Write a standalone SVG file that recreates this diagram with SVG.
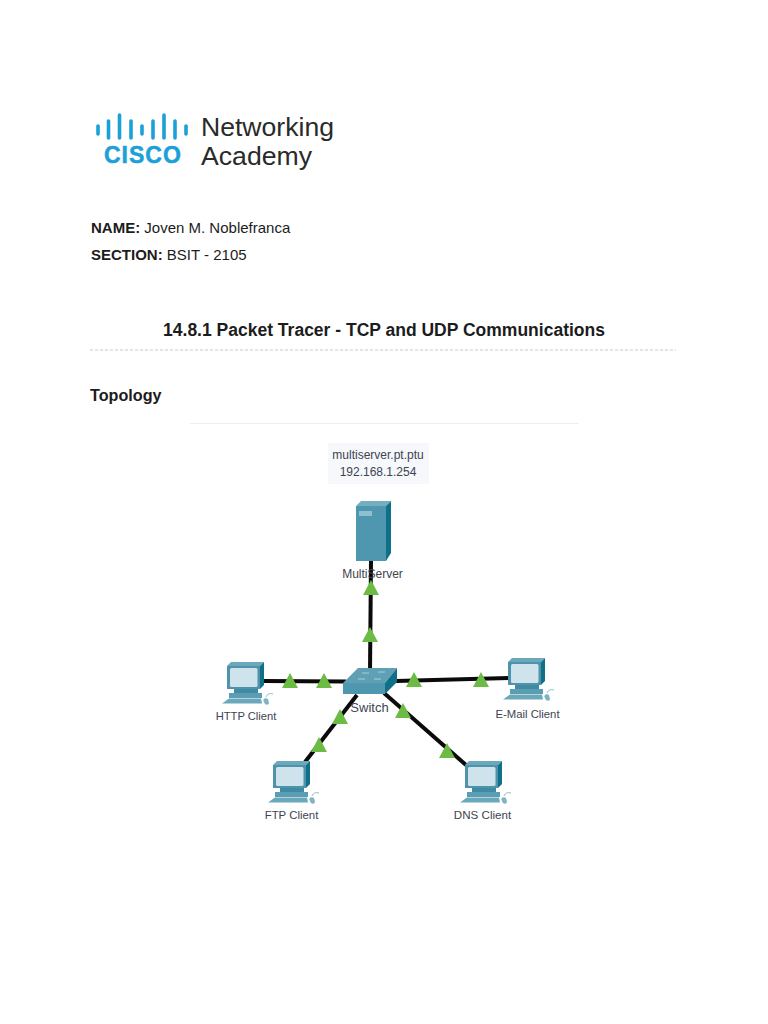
<svg xmlns="http://www.w3.org/2000/svg" width="768" height="1024" viewBox="0 0 768 1024">
<style>
text{font-family:"Liberation Sans",Arial,sans-serif;fill:#1c1c1c}
.doc{font-size:15px}
.b{font-weight:700}
.lbl{font-size:12px;fill:#3d4450;text-anchor:middle}
.wire{stroke:#0a0a0a;stroke-width:4;fill:none}
.arr{fill:#6cbb45}
.bar{stroke:#1ba0d7;stroke-width:3.600;stroke-linecap:round}
</style>
<defs>
<polygon id="tri" class="arr" points="0,-8 8,7 -8,7"/>
<g id="pc">
<polygon points="0,4 4,0 37,0 33,4" fill="#6ba8bb"/>
<polygon points="33,4 37,0 37,23 33,27" fill="#0f7088"/>
<rect x="0" y="4" width="33" height="23" fill="#4f93ab"/>
<rect x="3" y="6" width="27.500" height="19" rx="1.500" fill="#cfe3ec"/>
<rect x="7" y="27" width="24" height="4" fill="#3f8ba4"/>
<rect x="2" y="31" width="33" height="5" fill="#5b9db3"/>
<polygon points="2,36.500 34,36.500 35,41.500 -5,41.500" fill="#6aa8bc"/>
<path d="M37,40c-2,-2 1,-5 4,-3l1,4c0,2-4,3-5,-1z" fill="#7fb3c5"/>
<path d="M39,35c1,-3 4,-4 7,-3" stroke="#8dbccb" stroke-width="1" fill="none"/>
</g>
</defs>

<g id="logo">
<line class="bar" x1="98" y1="126" x2="98" y2="134"/>
<line class="bar" x1="108.500" y1="121" x2="108.500" y2="138"/>
<line class="bar" x1="119.500" y1="115" x2="119.500" y2="138"/>
<line class="bar" x1="131" y1="121" x2="131" y2="138"/>
<line class="bar" x1="142" y1="126" x2="142" y2="134"/>
<line class="bar" x1="153" y1="121" x2="153" y2="138"/>
<line class="bar" x1="164" y1="115" x2="164" y2="138"/>
<line class="bar" x1="175" y1="121" x2="175" y2="138"/>
<line class="bar" x1="186" y1="126" x2="186" y2="134"/>
<text x="104" y="163" font-size="23" font-weight="700" letter-spacing="1" stroke="#1ba0d7" stroke-width="0.500" style="fill:#1ba0d7">CISCO</text>
<text x="201" y="136" font-size="26" textLength="133" lengthAdjust="spacingAndGlyphs" style="fill:#2a2a2a">Networking</text>
<text x="201" y="165" font-size="26" textLength="111" lengthAdjust="spacingAndGlyphs" style="fill:#2a2a2a">Academy</text>
</g>

<g id="header">
<text class="doc" x="91" y="233"><tspan class="b">NAME:</tspan> Joven M. Noblefranca</text>
<text class="doc" x="91" y="260"><tspan class="b">SECTION:</tspan> BSIT - 2105</text>
<text x="384" y="336" font-size="17.500" font-weight="700" text-anchor="middle">14.8.1 Packet Tracer - TCP and UDP Communications</text>
<line x1="90" y1="350" x2="676" y2="350" stroke="#c9c9c9" stroke-width="1" stroke-dasharray="3 2"/>
<text x="90" y="401" font-size="16.200" font-weight="700">Topology</text>
<line x1="190" y1="423.500" x2="579" y2="423.500" stroke="#eeeeee" stroke-width="1"/>
</g>

<g id="note">
<rect x="328" y="443" width="101" height="41" fill="#f6f8fc"/>
<text class="lbl" x="378" y="459">multiserver.pt.ptu</text>
<text class="lbl" x="378" y="476">192.168.1.254</text>
</g>

<g id="connectors">
<line class="wire" x1="371" y1="560" x2="370" y2="672"/>
<line class="wire" x1="263" y1="681" x2="346" y2="681.500"/>
<line class="wire" x1="396" y1="681" x2="509" y2="678"/>
<line class="wire" x1="305" y1="762" x2="357" y2="695"/>
<line class="wire" x1="466" y1="765" x2="384" y2="693"/>
</g>

<g id="MultiServer">
<polygon points="356,506 361,501 391,501 386,506" fill="#74aebf"/>
<polygon points="386,506 391,501 391,553 386,561" fill="#0f7088"/>
<rect x="356" y="506" width="30" height="55" fill="#4f97ae"/>
<rect x="359" y="511" width="13" height="5" fill="#8fc0cf"/>
<text class="lbl" x="372.500" y="578">MultiServer</text>
</g>

<g id="Switch">
<polygon points="343,683 358,668 397,668 385,683" fill="#5fa0b5"/>
<polygon points="385,683 397,668 397,682 385,694" fill="#0f7088"/>
<rect x="343" y="683" width="42" height="11" fill="#4f97ae"/>
<path d="M362,673h7M378,672h7M358,679h7M374,679h7" stroke="#a9cdd9" stroke-width="1"/>
<text class="lbl" x="369.500" y="712" style="font-size:13px">Switch</text>
</g>

<g id="HTTP-Client"><use href="#pc" x="227" y="662"/><text class="lbl" x="246" y="720" style="font-size:11.200px">HTTP Client</text></g>
<g id="EMail-Client"><use href="#pc" x="508" y="658"/><text class="lbl" x="527.500" y="718" style="font-size:11.300px">E-Mail Client</text></g>
<g id="FTP-Client"><use href="#pc" x="273" y="761"/><text class="lbl" x="291.500" y="819" style="font-size:11.400px">FTP Client</text></g>
<g id="DNS-Client"><use href="#pc" x="465" y="761"/><text class="lbl" x="482.500" y="819" style="font-size:11.600px">DNS Client</text></g>

<g id="link-lights">
<use href="#tri" x="371" y="588"/>
<use href="#tri" x="370" y="635"/>
<use href="#tri" x="290" y="681"/>
<use href="#tri" x="324" y="681"/>
<use href="#tri" x="414" y="680"/>
<use href="#tri" x="481" y="680"/>
<use href="#tri" x="319" y="745"/>
<use href="#tri" x="340" y="717"/>
<use href="#tri" x="403" y="711"/>
<use href="#tri" x="447" y="751"/>
</g>
</svg>
